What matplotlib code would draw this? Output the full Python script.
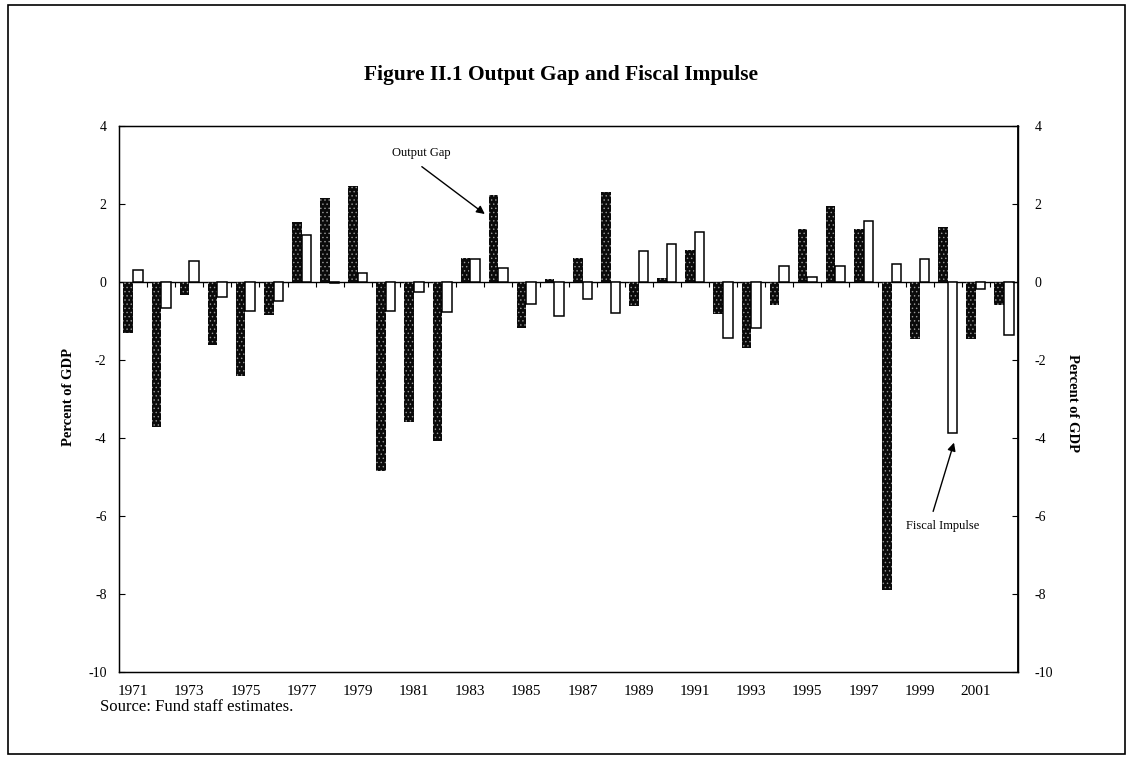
import numpy as np
import matplotlib
matplotlib.use("Agg")
import matplotlib.pyplot as plt
from matplotlib.patches import Rectangle

plt.rcParams['font.family'] = ['Liberation Serif', 'DejaVu Serif']
plt.rcParams['hatch.linewidth'] = 0.5

# data (percent of GDP)
years = list(range(1971, 2003))
output_gap = [-1.32, -3.73, -0.33, -1.62, -2.41, -0.85, 1.54, 2.16, 2.46, -4.85,
              -3.60, -4.08, 0.62, 2.22, -1.17, 0.08, 0.62, 2.32, -0.61, 0.11,
              0.83, -0.81, -1.70, -0.59, 1.36, 1.94, 1.37, -7.90, -1.47, 1.40,
              -1.47, -0.59]
fiscal_impulse = [0.31, -0.66, 0.54, -0.38, -0.74, -0.49, 1.20, -0.03, 0.24, -0.75,
                  -0.26, -0.77, 0.60, 0.37, -0.57, -0.87, -0.44, -0.79, 0.80, 0.97,
                  1.28, -1.44, -1.19, 0.41, 0.13, 0.41, 1.57, 0.45, 0.59, -3.87,
                  -0.19, -1.35]
tick_years = years[::2]
yticks = [-10, -8, -6, -4, -2, 0, 2, 4]

fig = plt.figure(figsize=(11.28, 7.59), dpi=100)
ax = fig.add_axes([0.1055, 0.1146, 0.797, 0.7194])

x = np.arange(len(years))
w = 0.34
# dark speckled bars = output gap, open bars = fiscal impulse
ax.bar(x - w / 2, output_gap, w, facecolor='#0a0a0a', edgecolor='#9a9a9a',
       hatch='....', linewidth=0, zorder=3)
ax.bar(x + w / 2, fiscal_impulse, w, facecolor='white', edgecolor='black',
       linewidth=1.1, zorder=3)

ax.axhline(0, color='black', lw=1, zorder=2)
# small category ticks on the zero line
ax.vlines(x[:-1] + 0.5, -0.12, 0, color='black', lw=0.8, zorder=2)

ax.set_xlim(-0.5, len(years) - 0.5)
ax.set_ylim(-10, 4)
ax.set_yticks(yticks)
ax.set_yticklabels([str(v) for v in yticks], fontsize=10)
ax.tick_params(axis='y', direction='in', length=4, pad=9)
ax.set_xticks([years.index(y) for y in tick_years])
ax.set_xticklabels([str(y) for y in tick_years], fontsize=11)
ax.tick_params(axis='x', length=0, pad=9)
for s in ax.spines.values():
    s.set_linewidth(1)

ax2 = ax.twinx()
ax2.set_ylim(-10, 4)
ax2.set_yticks(yticks)
ax2.set_yticklabels([str(v) for v in yticks], fontsize=10)
ax2.tick_params(axis='y', direction='in', length=4, pad=12)
ax2.spines['right'].set_linewidth(1.3)

fig.text(0.061, 0.477, 'Percent of GDP', rotation=90, ha='center', va='center',
         fontsize=10.5, fontweight='bold')
fig.text(0.951, 0.469, 'Percent of GDP', rotation=-90, ha='center', va='center',
         fontsize=10.5, fontweight='bold')

fig.text(0.497, 0.901, 'Figure II.1 Output Gap and Fiscal Impulse', ha='center',
         va='center', fontsize=15.5, fontweight='bold')
fig.text(0.089, 0.069, 'Source: Fund staff estimates.', ha='left', va='center',
         fontsize=12)

# annotations
ax.text(10.25, 3.3, 'Output Gap', ha='center', va='center', fontsize=9)
ax.annotate('', xy=(12.6, 1.7), xytext=(10.2, 3.0),
            arrowprops=dict(arrowstyle='-|>', color='black', lw=1, mutation_scale=12))
ax.text(28.8, -6.25, 'Fiscal Impulse', ha='center', va='center', fontsize=9)
ax.annotate('', xy=(29.25, -4.05), xytext=(28.45, -5.95),
            arrowprops=dict(arrowstyle='-|>', color='black', lw=1, mutation_scale=12))

# page frame
fig.patches.append(Rectangle((0.007, 0.006), 0.99, 0.987, transform=fig.transFigure,
                             fill=False, edgecolor='black', lw=1.2))

fig.savefig('out.png', dpi=100)
